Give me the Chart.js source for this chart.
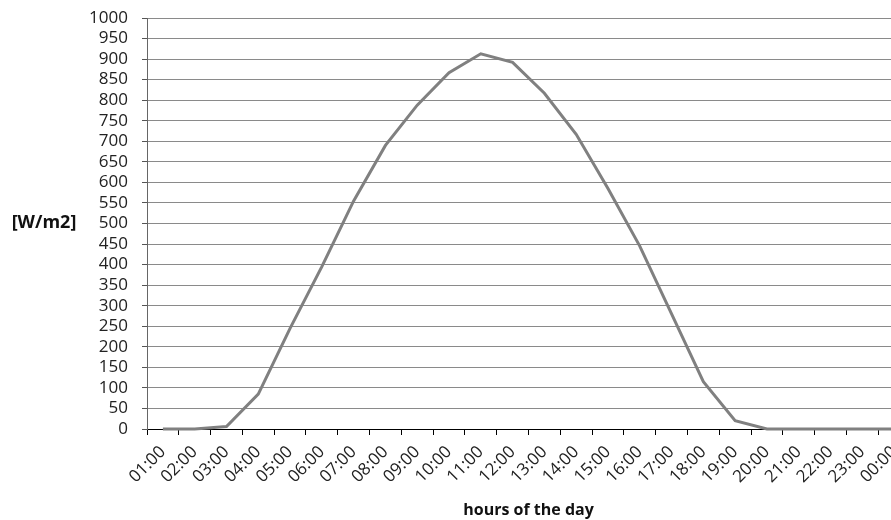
<!DOCTYPE html>
<html>
<head>
<meta charset="utf-8">
<script src="https://cdn.jsdelivr.net/npm/chart.js@4/dist/chart.umd.min.js"></script>
<style>
html,body{margin:0;padding:0;background:#fff;overflow:hidden;}
#wrap{width:915px;height:520px;}
</style>
</head>
<body>
<div id="wrap"><canvas id="c" width="915" height="520"></canvas></div>
<script>
const hours = ["01:00","02:00","03:00","04:00","05:00","06:00","07:00","08:00","09:00","10:00","11:00","12:00","13:00","14:00","15:00","16:00","17:00","18:00","19:00","20:00","21:00","22:00","23:00","00:00"];
const irradiance = [0,0,6,85,245,395,555,690,788,867,913,892,817,717,585,445,280,115,20,0,0,0,0,0];
const yMin = 0, yMax = 1000, yStep = 50;
const yTitle = "[W/m2]";
const xTitle = "hours of the day";

const FONT = "'Open Sans', 'DejaVu Sans', sans-serif";

const yTitlePlugin = {
  id: 'yTitlePlugin',
  afterDraw(chart) {
    const ctx = chart.ctx;
    const a = chart.chartArea;
    ctx.save();
    ctx.font = "bold 18px " + FONT;
    ctx.fillStyle = '#111';
    ctx.textAlign = 'center';
    ctx.textBaseline = 'middle';
    ctx.fillText(yTitle, 44, (a.top + a.bottom) / 2 - 1);
    ctx.restore();
  }
};

new Chart(document.getElementById('c'), {
  type: 'line',
  data: {
    labels: hours,
    datasets: [{
      data: irradiance,
      borderColor: '#808080',
      borderWidth: 3,
      pointRadius: 0,
      tension: 0,
      fill: false,
      clip: false
    }]
  },
  options: {
    responsive: false,
    animation: false,
    devicePixelRatio: 1,
    layout: { padding: { top: 18, right: 5, bottom: 0, left: 0 } },
    plugins: { legend: { display: false }, tooltip: { enabled: false } },
    scales: {
      x: {
        type: 'category',
        offset: true,
        afterFit(scale) { scale.height = 91; scale.paddingLeft = 0; scale.paddingRight = 0; },
        grid: { display: true, drawOnChartArea: false, drawTicks: true, tickLength: 6, offset: true, tickColor: '#000', lineWidth: 1 },
        border: { display: true, color: '#000', width: 1 },
        ticks: { minRotation: 45, maxRotation: 45, autoSkip: false, color: '#222', font: { size: 17, family: FONT }, padding: 7 },
        title: { display: true, text: xTitle, color: '#111', font: { size: 16, weight: 'bold', family: FONT }, padding: { top: 4, bottom: 0 } }
      },
      y: {
        min: yMin, max: yMax,
        afterFit(scale) { scale.width = 147; scale.paddingTop = 0; scale.paddingBottom = 0; },
        grid: { color: '#8a8a8a', lineWidth: 1, tickLength: 5, tickColor: '#555' },
        border: { display: true, color: '#666', width: 1 },
        ticks: { stepSize: yStep, autoSkip: false, color: '#222', font: { size: 17, family: FONT }, padding: 14,
                 callback: (v) => String(v) }
      }
    }
  },
  plugins: [yTitlePlugin]
});
</script>
</body>
</html>
